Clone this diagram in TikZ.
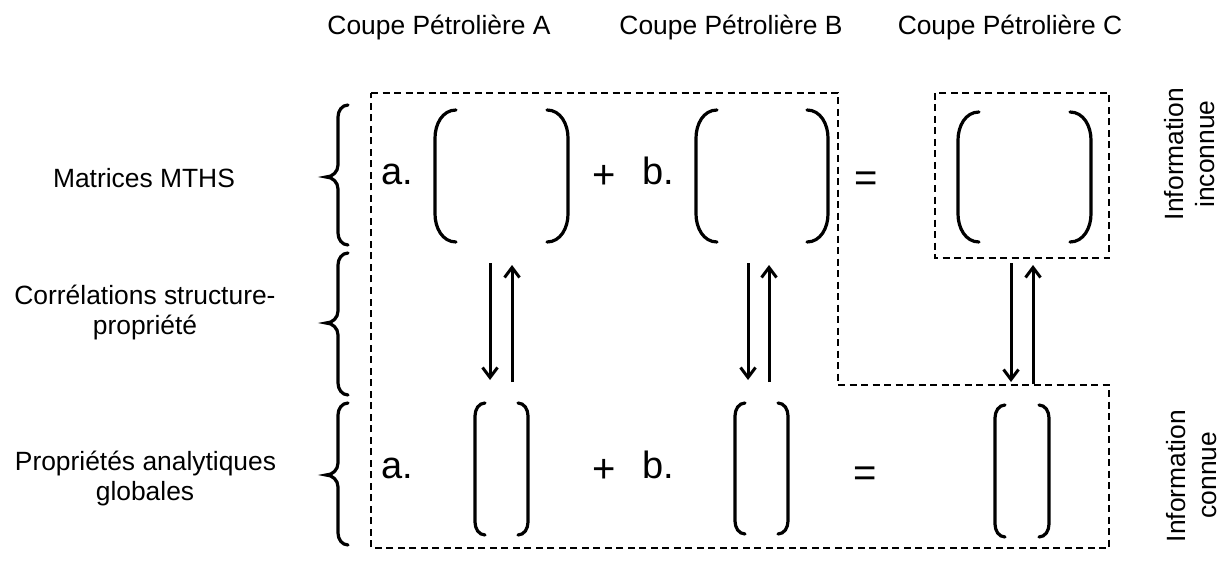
\documentclass[tikz,border=0pt]{standalone}
\usepackage{fontspec}
\setmainfont{Liberation Sans}
\usetikzlibrary{calc,arrows.meta}
\newcommand\mybrk[3]{%
 \draw[brk] ($(#1.north west)+(#2,0)$) to[out=180,in=90] ($(#1.north west)+(0,-#3)$) -- ($(#1.south west)+(0,#3)$) to[out=-90,in=180] ($(#1.south west)+(#2,0)$);
 \draw[brk] ($(#1.north east)+(-#2,0)$) to[out=0,in=90] ($(#1.north east)+(0,-#3)$) -- ($(#1.south east)+(0,#3)$) to[out=-90,in=0] ($(#1.south east)+(-#2,0)$);
}
\newcommand\mybrace[3]{% top, tip, bottom (y in px)
 \draw[brc] (348,-#1) to[out=180,in=90] (338,-#1-12) -- (338,-#2+12) to[out=-90,in=0] (326,-#2) to[out=0,in=90] (338,-#2-12) -- (338,-#3+12) to[out=-90,in=180] (348,-#3);
}
\begin{document}
\begin{tikzpicture}[x=1pt,y=1pt,
  every node/.style={inner sep=0pt,outer sep=0pt},
  lbl/.style={font=\fontsize{26.4}{30}\selectfont,anchor=base},
  big/.style={font=\fontsize{38}{44}\selectfont,anchor=base west},
  op/.style={font=\fontsize{40}{46}\selectfont,anchor=base},
  mat/.style={draw=none,inner sep=0pt},
  brk/.style={line width=3.2pt,line cap=round},
  brc/.style={line width=3.2pt,line cap=round},
  dbox/.style={line width=2pt,dash pattern=on 7pt off 4.5pt},
  arr/.style={line width=3pt,-{Straight Barb[length=10pt,width=15pt,line width=3pt]}}]
\useasboundingbox (0,0) rectangle (1232,-567);
% column titles
\node[lbl] (tA) at (439,-35) {Coupe Pétrolière A};
\node[lbl] (tB) at (731,-35) {Coupe Pétrolière B};
\node[lbl] (tC) at (1010,-35) {Coupe Pétrolière C};
% row titles
\node[lbl] (r1) at (144,-187) {Matrices MTHS};
\node[lbl] (r2a) at (145,-304) {Corrélations structure-};
\node[lbl] (r2b) at (145,-334) {propriété};
\node[lbl] (r3a) at (145.5,-470) {Propriétés analytiques};
\node[lbl] (r3b) at (145,-500) {globales};
% braces
\mybrace{105}{177}{245}
\mybrace{253}{323}{395}
\mybrace{403}{475}{545}
% dashed regions
\draw[dbox] (371,-93) -- (838,-93) -- (838,-385) -- (1109,-385) -- (1109,-548) -- (371,-548) -- cycle;
\draw[dbox] (935,-93) rectangle (1109,-258);
% top matrices
\node[mat,minimum width=133pt,minimum height=132pt] (mA) at (501.5,-176) {};
\node[mat,minimum width=132pt,minimum height=132pt] (mB) at (762,-176) {};
\node[mat,minimum width=133pt,minimum height=130pt] (mC) at (1024.5,-177) {};
\mybrk{mA}{21}{28}
\mybrk{mB}{21}{28}
\mybrk{mC}{21}{28}
% bottom matrices
\node[mat,minimum width=53pt,minimum height=132pt] (vA) at (501.5,-469) {};
\node[mat,minimum width=53pt,minimum height=131pt] (vB) at (761.5,-468.5) {};
\node[mat,minimum width=54pt,minimum height=132pt] (vC) at (1022,-471) {};
\mybrk{vA}{10}{13}
\mybrk{vB}{10}{13}
\mybrk{vC}{10}{13}
% operators
\node[big] (ka) at (381,-185) {a.};
\node[op] (p1) at (604,-189) {+};
\node[big] (kb) at (642.5,-185) {b.};
\node[op] (e1) at (866,-191) {=};
\node[big] (ka2) at (381,-478) {a.};
\node[op] (p2) at (604,-482) {+};
\node[big] (kb2) at (642.5,-478) {b.};
\node[op] (e2) at (865,-486) {=};
% arrows
\draw[arr,shorten <=21pt,shorten >=23pt] ([xshift=-11.5pt]mA.south) -- ([xshift=-11.5pt]vA.north);
\draw[arr,shorten <=21pt,shorten >=23pt] ([xshift=10.5pt]vA.north) -- ([xshift=10.5pt]mA.south);
\draw[arr,shorten <=21pt,shorten >=23pt] ([xshift=-13.5pt]vB.north |- mB.south) -- ([xshift=-13.5pt]vB.north);
\draw[arr,shorten <=21pt,shorten >=23pt] ([xshift=7.5pt]vB.north) -- ([xshift=7.5pt]vB.north |- mB.south);
\draw[arr,shorten <=21pt,shorten >=23pt] ([xshift=-11pt]vC.north |- mC.south) -- ([xshift=-11pt]vC.north);
\draw[arr,shorten <=21pt,shorten >=23pt] ([xshift=11pt]vC.north) -- ([xshift=11pt]vC.north |- mC.south);
% side notes
\node[lbl,rotate=90] (i1) at (1183,-154) {Information};
\node[lbl,rotate=90] (i2) at (1214,-154) {inconnue};
\node[lbl,rotate=90] (k1) at (1185,-476) {Information};
\node[lbl,rotate=90] (k2) at (1216,-475) {connue};
\end{tikzpicture}
\end{document}
